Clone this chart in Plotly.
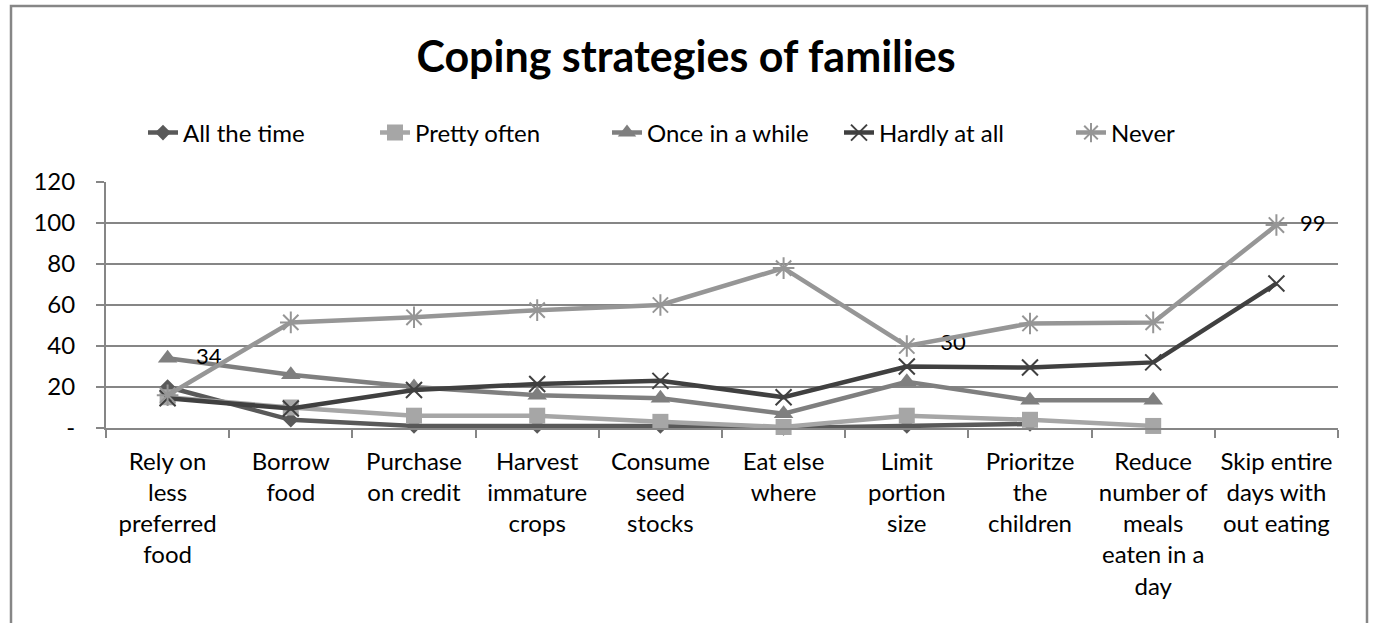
import plotly.graph_objects as go

categories = [
    "Rely on<br>less<br>preferred<br>food",
    "Borrow<br>food",
    "Purchase<br>on credit",
    "Harvest<br>immature<br>crops",
    "Consume<br>seed<br>stocks",
    "Eat else<br>where",
    "Limit<br>portion<br>size",
    "Prioritze<br>the<br>children",
    "Reduce<br>number of<br>meals<br>eaten in a<br>day",
    "Skip entire<br>days with<br>out eating",
]

all_the_time = [20, 4, 1, 1, 1, 0, 1, 2, None, None]
pretty_often = [15, 10, 6, 6, 3, 0.5, 6, 4, 1, None]
once_in_a_while = [34, 26, 20, 16, 14.5, 7, 22.5, 13.5, 13.5, None]
hardly_at_all = [14.5, 9.5, 18.5, 21.5, 23, 15, 30, 29.5, 32, 70.5]
never = [16, 51.5, 54, 57.5, 60, 78, 40, 51, 51.5, 99]

NB = "\u00a0"
label_once = [NB * 3 + "34", "", "", "", "", "", "", "", "", ""]
label_hardly = ["", "", "", "", "", "", NB * 4 + "30", "", "", ""]
label_never = ["", "", "", "", "", "", "", "", "", NB * 2 + "99"]

W, H = 1373, 623
L, R, T, B = 106, 1338, 182, 428
FONT = "Lato, Open Sans, sans-serif"
GRID = "#868686"

fig = go.Figure()

def add(name, vals, color, symbol, msize, mline=None, text=None, tpos="middle right"):
    marker = dict(symbol=symbol, size=msize, color=color)
    if mline:
        marker["line"] = dict(color=color, width=mline)
    fig.add_trace(go.Scatter(
        x=categories, y=vals, name=name,
        mode="lines+markers+text" if text else "lines+markers",
        line=dict(color=color, width=4.5),
        marker=marker,
        text=text, textposition=tpos,
        textfont=dict(family=FONT, size=22, color="black"),
        connectgaps=False,
        cliponaxis=False,
    ))

add("All the time", all_the_time, "#595959", "diamond", 12)
add("Pretty often", pretty_often, "#A6A6A6", "square", 16)
add("Once in a while", once_in_a_while, "#7F7F7F", "triangle-up", 17, text=label_once)
add("Hardly at all", hardly_at_all, "#404040", "x-thin-open", 16, mline=2, text=label_hardly, tpos="top right")
add("Never", never, "#969696", "asterisk-open", 18, mline=2, text=label_never)

pw, ph = R - L, B - T
def px_x(x):
    return (x - L) / pw
def px_y(y):
    return (B - y) / ph

fig.add_shape(type="rect", xref="paper", yref="paper",
              x0=px_x(11), x1=px_x(1367), y0=px_y(640), y1=px_y(6),
              line=dict(color=GRID, width=2.5), fillcolor="rgba(0,0,0,0)", layer="below")

fig.update_layout(
    width=W, height=H,
    margin=dict(l=L, r=W - R, t=T, b=H - B),
    paper_bgcolor="white", plot_bgcolor="white",
    font=dict(family=FONT, size=24, color="black"),
    title=dict(text="<b>Coping strategies of families</b>", x=686 / W, xref="container",
               xanchor="center", y=1 - 57 / H, yref="container", yanchor="middle",
               font=dict(family=FONT, size=43, color="black")),
    legend=dict(orientation="h", x=px_x(143), xanchor="left", y=px_y(133), yanchor="middle",
                font=dict(family=FONT, size=24, color="black"),
                entrywidth=187, entrywidthmode="pixels", tracegroupgap=0,
                bgcolor="rgba(0,0,0,0)"),
    showlegend=True,
)

fig.update_xaxes(
    type="category", showgrid=False, showline=True, linecolor=GRID, linewidth=2,
    ticks="outside", tickson="boundaries", ticklen=8, tickcolor=GRID, tickwidth=2,
    tickangle=0, tickfont=dict(family=FONT, size=24, color="black"),
    ticklabelstandoff=11,
    range=[-0.5, 9.5], fixedrange=True,
)
fig.update_yaxes(
    range=[0, 120], tickmode="array",
    tickvals=[0, 20, 40, 60, 80, 100, 120],
    ticktext=["-", "20", "40", "60", "80", "100", "120"],
    showgrid=True, gridcolor=GRID, gridwidth=2,
    showline=True, linecolor=GRID, linewidth=2,
    ticks="outside", ticklen=8, tickcolor=GRID, tickwidth=2,
    ticklabelstandoff=16,
    tickfont=dict(family=FONT, size=24, color="black"),
    zeroline=False,
)

fig.write_html("out.html")
